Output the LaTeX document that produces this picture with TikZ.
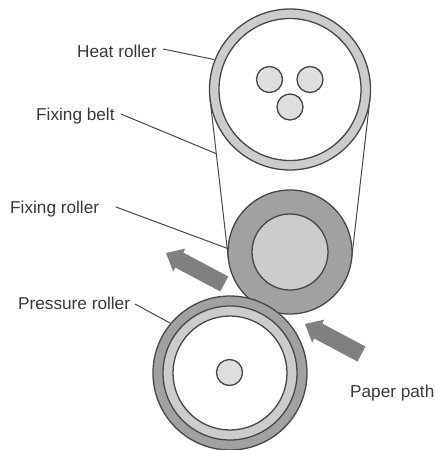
\documentclass[tikz,border=0pt]{standalone}
\usepackage{fontspec}
\setmainfont{Liberation Sans}
\definecolor{ln}{gray}{0.28}
\definecolor{ringL}{gray}{0.80}
\definecolor{ringD}{gray}{0.63}
\definecolor{coreL}{gray}{0.87}
\definecolor{arr}{gray}{0.50}
\definecolor{txt}{gray}{0.22}
\tikzset{
  x=1pt,y=-1pt,
  disc/.style={circle,draw=ln,line width=1.3pt,inner sep=0pt,outer sep=0pt,minimum size=#1},
  lbl/.style={font=\fontsize{17.2}{20}\selectfont,text=txt,inner sep=0pt,anchor=base west},
  leader/.style={draw=ln,line width=1pt},
  belt/.style={draw=ln,line width=1pt},
  flow/.style={fill=arr,draw=none}
}
\begin{document}
\begin{tikzpicture}
\useasboundingbox (0,0) rectangle (436,450);
% belt
\coordinate (bl1) at (210.0,98.6);
\coordinate (bl2) at (228.4,259);
\coordinate (br1) at (370.0,98.6);
\coordinate (br2) at (351.6,259);
\draw[belt] (bl1) -- (bl2);
\draw[belt] (br1) -- (br2);
% heat roller
\node[disc=161pt,fill=ringL] (heat) at (290,89.5) {};
\node[disc=142pt,fill=white] (heatin) at (290,89.5) {};
\node[disc=26pt,fill=coreL] (h1) at (269.5,79.5) {};
\node[disc=26pt,fill=coreL] (h2) at (310,79.5) {};
\node[disc=26pt,fill=coreL] (h3) at (290,107) {};
% fixing roller
\node[disc=124pt,fill=ringD] (fix) at (290,252) {};
\node[disc=76pt,fill=ringL] (fixin) at (290,252) {};
% pressure roller
\node[disc=154pt,fill=ringD] (pres) at (230,373) {};
\node[disc=134pt,fill=ringL] (presm) at (230,373) {};
\node[disc=114pt,fill=white] (presin) at (230,373) {};
\node[disc=26pt,fill=coreL] (pcore) at (229.5,372.5) {};
% arrows
\begin{scope}[shift={(166,253)},rotate=-28]
\fill[flow] (0,0) -- (15,-13) -- (15,-8.5) -- (66,-8.5) -- (66,8.5) -- (15,8.5) -- (15,13) -- cycle;
\end{scope}
\begin{scope}[shift={(305,324)},rotate=-28]
\fill[flow] (0,0) -- (15,-13) -- (15,-8.5) -- (64,-8.5) -- (64,8.5) -- (15,8.5) -- (15,13) -- cycle;
\end{scope}
% labels
\node[lbl] (lheat) at (77,57) {Heat roller};
\node[lbl] (lbelt) at (36,120) {Fixing belt};
\node[lbl] (lfix) at (10,213) {Fixing roller};
\node[lbl] (lpres) at (18,309) {Pressure roller};
\node[lbl] (lpath) at (350,397) {Paper path};
% leaders
\coordinate (e1) at (214,59.5);
\coordinate (e2) at (217,154);
\coordinate (e3) at (229,249);
\coordinate (e4) at (170,323);
\coordinate (s1) at (163,49);
\coordinate (s2) at (121,114);
\coordinate (s3) at (116,207);
\coordinate (s4) at (135,304);
\draw[leader] (s1) -- (e1);
\draw[leader] (s2) -- (e2);
\draw[leader] (s3) -- (e3);
\draw[leader] (s4) -- (e4);
\end{tikzpicture}
\end{document}
